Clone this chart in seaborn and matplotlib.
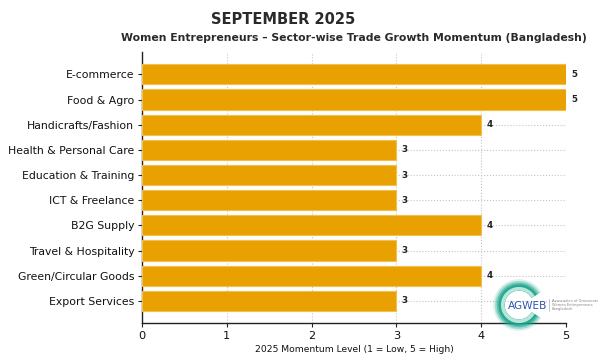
import matplotlib
matplotlib.use("Agg")
import matplotlib.pyplot as plt
import seaborn as sns
import pandas as pd
from matplotlib.patches import Wedge

sectors = ["E-commerce", "Food & Agro", "Handicrafts/Fashion", "Health & Personal Care",
           "Education & Training", "ICT & Freelance", "B2G Supply", "Travel & Hospitality",
           "Green/Circular Goods", "Export Services"]
momentum = [5, 5, 4, 3, 3, 3, 4, 3, 4, 3]
xticks = [0, 1, 2, 3, 4, 5]

sns.set_style("white")
plt.rcParams['font.family'] = ['DejaVu Sans']

df = pd.DataFrame({"Sector": sectors, "Momentum": momentum})

fig = plt.figure(figsize=(6.01, 3.64), dpi=100)
ax = fig.add_axes([0.236, 0.1126, 0.706, 0.744])
sns.barplot(data=df, y="Sector", x="Momentum", orient="h", color="#E8A100",
            saturation=1, edgecolor="#F2C050", linewidth=0.8, width=0.8, ax=ax, zorder=3)

ax.set_xlim(0, 5)
ax.set_ylim(len(sectors) - 0.12, -0.88)
ax.set_xticks(xticks)
ax.grid(True, linestyle=":", color="#C4C4C4", linewidth=0.8, zorder=0)
ax.set_axisbelow(True)
for s in ["top", "right"]:
    ax.spines[s].set_visible(False)
for s in ["left", "bottom"]:
    ax.spines[s].set_color("#222222")
    ax.spines[s].set_linewidth(1.0)
ax.tick_params(axis="both", which="both", length=3, width=0.8, color="#222222",
               labelsize=7.8, labelcolor="#111111", left=True, bottom=True, pad=2.5)
ax.tick_params(axis="x", labelsize=8.2)
ax.set_ylabel("")
ax.set_xlabel("2025 Momentum Level (1 = Low, 5 = High)", fontsize=6.6, color="#111111", labelpad=3)

for i, v in enumerate(momentum):
    ax.text(v + 0.06, i, str(v), va="center", ha="left", fontsize=6.3,
            fontweight="bold", color="#222222", zorder=5)

fig.text(283 / 601, 1 - 20 / 364, "SEPTEMBER 2025", ha="center", va="center", fontsize=10.5,
         fontweight="bold", color="#2a2a2a")
fig.text(354 / 601, 1 - 38 / 364,
         "Women Entrepreneurs – Sector-wise Trade Growth Momentum (Bangladesh)",
         ha="center", va="center", fontsize=7.8, fontweight="bold", color="#2a2a2a")

# logo
cx, cy = 519 / 601, 1 - 305 / 364
w = 0.1
h = w * 601 / 364
logo_ax = fig.add_axes([cx - w / 2, cy - h / 2, w, h])
logo_ax.set_xlim(-1, 1)
logo_ax.set_ylim(-1, 1)
logo_ax.set_aspect("equal")
logo_ax.axis("off")
for r, a in [(0.86, 0.15), (0.8, 0.3), (0.74, 0.5), (0.68, 0.75)]:
    logo_ax.add_patch(Wedge((0, 0), r, 30, 330, width=r - 0.48, facecolor="#16a489",
                            edgecolor="none", alpha=a))
logo_ax.add_patch(Wedge((0, 0), 0.6, 30, 330, width=0.12, facecolor="#b8e6dc",
                        edgecolor="none"))
logo_ax.text(0.28, -0.04, "AGWEB", ha="center", va="center", fontsize=7.6,
             color="#2f55b0", family="DejaVu Sans Condensed")
fig.add_artist(plt.Line2D([549 / 601, 549 / 601], [1 - 299 / 364, 1 - 311 / 364],
                          color="#bbbbbb", linewidth=0.6))
fig.text(552 / 601, 1 - 305 / 364, "Association of Grassroots\nWomen Entrepreneurs\nBangladesh",
         ha="left", va="center", fontsize=2.6, color="#888888", linespacing=1.1)

fig.savefig("out.png", dpi=100)
